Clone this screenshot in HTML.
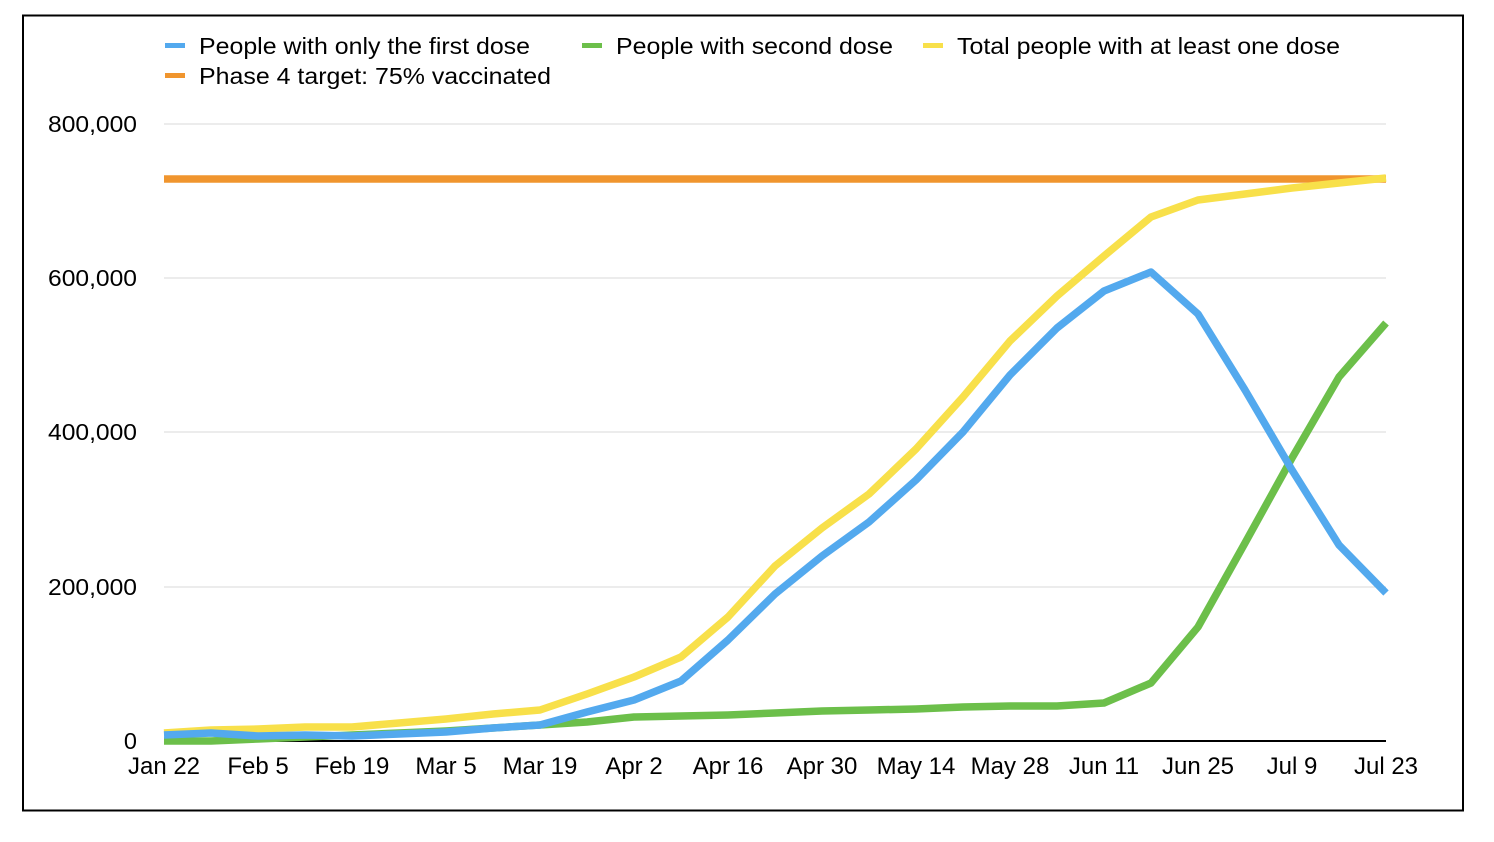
<!DOCTYPE html>
<html><head><meta charset="utf-8"><style>
body{margin:0;background:#fff;}
svg{display:block;font-family:"Liberation Sans",Arial,sans-serif;}
</style></head><body>
<svg width="1494" height="842" viewBox="0 0 1494 842">
<rect x="0" y="0" width="1494" height="842" fill="#fff"/>
<rect x="23" y="15.5" width="1440" height="795" fill="none" stroke="#000" stroke-width="2"/>
<g stroke="#d9d9d9" stroke-width="1">
<line x1="164" y1="124" x2="1386" y2="124"/>
<line x1="164" y1="278" x2="1386" y2="278"/>
<line x1="164" y1="432" x2="1386" y2="432"/>
<line x1="164" y1="587" x2="1386" y2="587"/>
</g>
<line x1="164" y1="741" x2="1386" y2="741" stroke="#000" stroke-width="2"/>
<g font-size="23.5" fill="#000" text-anchor="end">
<text x="137" y="132" textLength="89" lengthAdjust="spacingAndGlyphs">800,000</text>
<text x="137" y="286" textLength="89" lengthAdjust="spacingAndGlyphs">600,000</text>
<text x="137" y="440" textLength="89" lengthAdjust="spacingAndGlyphs">400,000</text>
<text x="137" y="595" textLength="89" lengthAdjust="spacingAndGlyphs">200,000</text>
<text x="137" y="749">0</text>
</g>
<g font-size="24" fill="#000" text-anchor="middle">
<text x="164" y="774">Jan 22</text><text x="258" y="774">Feb 5</text><text x="352" y="774">Feb 19</text>
<text x="446" y="774">Mar 5</text><text x="540" y="774">Mar 19</text><text x="634" y="774">Apr 2</text>
<text x="728" y="774">Apr 16</text><text x="822" y="774">Apr 30</text><text x="916" y="774">May 14</text>
<text x="1010" y="774">May 28</text><text x="1104" y="774">Jun 11</text><text x="1198" y="774">Jun 25</text>
<text x="1292" y="774">Jul 9</text><text x="1386" y="774">Jul 23</text>
</g>
<g fill="none" stroke-width="7.5" stroke-linejoin="round" stroke-linecap="butt">
<line x1="164" y1="179" x2="1386" y2="179" stroke="#f0952e"/>
<polyline stroke="#6cbf4a" points="164,741 211,741 258,739 305,737 352,735 399,733 446,731 493,728 540,725 587,722 634,717 681,716 728,715 775,713 822,711 869,710 916,709 963,707 1010,706 1057,706 1104,703 1151,683 1198,627 1245,543 1292,458 1339,377 1386,323"/>
<polyline stroke="#f8e04a" points="164,733 211,730 258,729 305,727 352,727 399,723 446,719 493,714 540,710 587,694 634,677 681,657 728,617 775,566 822,528 869,494 916,449 963,397 1010,341 1057,296 1104,256 1151,217 1198,200 1245,194 1292,188 1339,183 1386,178"/>
<polyline stroke="#53a9ee" points="164,735 211,733 258,736 305,735 352,736 399,734 446,732 493,728 540,725 587,712 634,700 681,681 728,640 775,594 822,556 869,522 916,480 963,432 1010,375 1057,328 1104,291 1151,272 1198,314 1245,390 1292,470 1339,545 1386,593"/>
</g>
<g font-size="23.5" fill="#000">
<rect x="165" y="43" width="20" height="5" fill="#53a9ee"/><text x="199" y="54" textLength="331" lengthAdjust="spacingAndGlyphs">People with only the first dose</text>
<rect x="582" y="43" width="20" height="5" fill="#6cbf4a"/><text x="616" y="54" textLength="277" lengthAdjust="spacingAndGlyphs">People with second dose</text>
<rect x="923" y="43" width="20" height="5" fill="#f8e04a"/><text x="957" y="54" textLength="383" lengthAdjust="spacingAndGlyphs">Total people with at least one dose</text>
<rect x="165" y="73" width="20" height="5" fill="#f0952e"/><text x="199" y="84" textLength="352" lengthAdjust="spacingAndGlyphs">Phase 4 target: 75% vaccinated</text>
</g>
</svg>
</body></html>
